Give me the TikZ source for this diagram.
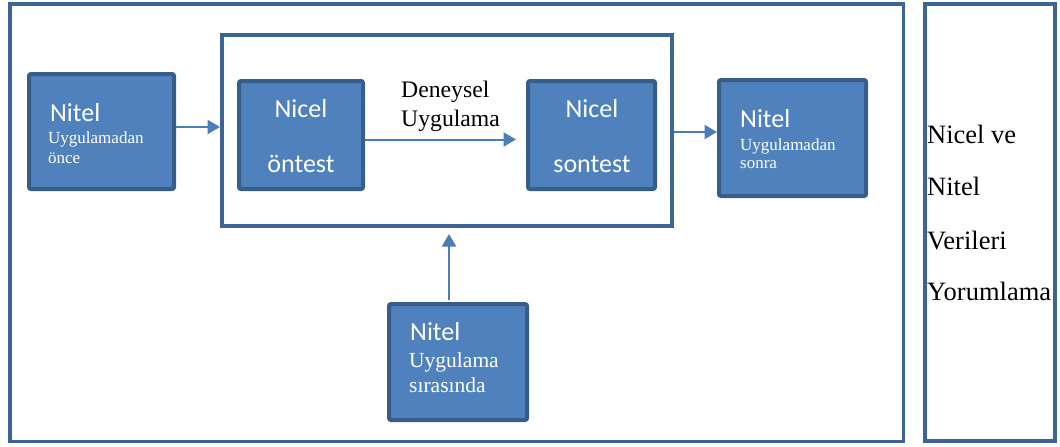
\documentclass[tikz,border=0pt]{standalone}
\usepackage{fontspec}
\setmainfont{Liberation Serif}
\newfontfamily\boxsans{Carlito}
\usetikzlibrary{arrows.meta}
\definecolor{boxfill}{HTML}{4F81BD}
\definecolor{boxedge}{HTML}{385D8A}
\definecolor{frameedge}{HTML}{3C6496}
\definecolor{arrowcol}{HTML}{4A7EBB}
\tikzset{
  frame/.style={draw=frameedge, fill=none, inner sep=0pt, rectangle},
  blockbox/.style={draw=boxedge, fill=boxfill, line width=4pt, rounded corners=2pt, inner sep=0pt, rectangle},
  head/.style={text=white, inner sep=0pt, font=\boxsans\fontsize{26}{26}\selectfont},
  sub/.style={text=white, inner sep=0pt, anchor=base west, font=\fontsize{17}{17}\selectfont},
  subbig/.style={text=white, inner sep=0pt, anchor=base west, font=\fontsize{21.5}{21.5}\selectfont},
  side/.style={text=black, inner sep=0pt, anchor=base west, font=\fontsize{26.5}{26.5}\selectfont},
  arr/.style={draw=arrowcol, line width=2pt, -{Triangle[length=12.5pt,width=14pt]}}
}
\begin{document}
\begin{tikzpicture}[x=1pt, y=-1pt]
\useasboundingbox (0,0) rectangle (1060,447);

% outer frames
\node[frame, line width=3.5pt, minimum width=893.5pt, minimum height=437.5pt] (outer) at (456.5,222.5) {};
\node[frame, line width=4pt, minimum width=130pt, minimum height=437pt] (side) at (990,222.5) {};
% inner frame around the quantitative tests
\node[frame, line width=4pt, minimum width=450pt, minimum height=191pt] (inner) at (447,130.5) {};

% blocks
\node[blockbox, minimum width=145pt, minimum height=115pt] (b1) at (101.5,131.5) {};
\node[blockbox, minimum width=124pt, minimum height=108pt] (b2) at (301,135) {};
\node[blockbox, minimum width=127pt, minimum height=108pt] (b3) at (591.5,135) {};
\node[blockbox, minimum width=147pt, minimum height=116pt] (b4) at (792.5,138) {};
\node[blockbox, minimum width=138pt, minimum height=116pt] (b5) at (458,362) {};

% block texts
\node[head, anchor=base west] (b1h) at (50,121) {Nitel};
\node[sub] (b1a) at (48,143) {Uygulamadan};
\node[sub] (b1b) at (48,163) {önce};

\node[head, anchor=base] (b2h) at (301,117) {Nicel};
\node[head, anchor=base] (b2a) at (301,172) {öntest};

\node[head, anchor=base] (b3h) at (592,117) {Nicel};
\node[head, anchor=base] (b3a) at (592,172) {sontest};

\node[head, anchor=base west] (b4h) at (740,127) {Nitel};
\node[sub] (b4a) at (740,150) {Uygulamadan};
\node[sub] (b4b) at (740,168) {sonra};

\node[head, anchor=base west] (b5h) at (410,340) {Nitel};
\node[subbig] (b5a) at (409,367) {Uygulama};
\node[subbig] (b5b) at (409,392) {sırasında};

% label over the middle arrow
\node[anchor=base west, inner sep=0pt, font=\fontsize{23.7}{23.7}\selectfont] (lab1) at (401,97) {Deneysel};
\node[anchor=base west, inner sep=0pt, font=\fontsize{23.7}{23.7}\selectfont] (lab2) at (401,126) {Uygulama};

% side column text
\node[side] (s1) at (927,143) {Nicel ve};
\node[side] (s2) at (927,195) {Nitel};
\node[side] (s3) at (927,249) {Verileri};
\node[side] (s4) at (927,300) {Yorumlama};

% connectors
\draw[arr] (b1.east |- 0,127) -- (inner.west |- 0,127);
\draw[arr] (b2.east |- 0,139.5) -- ([xshift=-10pt]b3.west |- 0,139.5);
\draw[arr] (inner.east |- 0,132) -- (b4.west |- 0,132);
\draw[arr] ([yshift=2pt]b5.north -| 449,0) -- ([yshift=-6pt]inner.south -| 449,0);
\end{tikzpicture}
\end{document}
